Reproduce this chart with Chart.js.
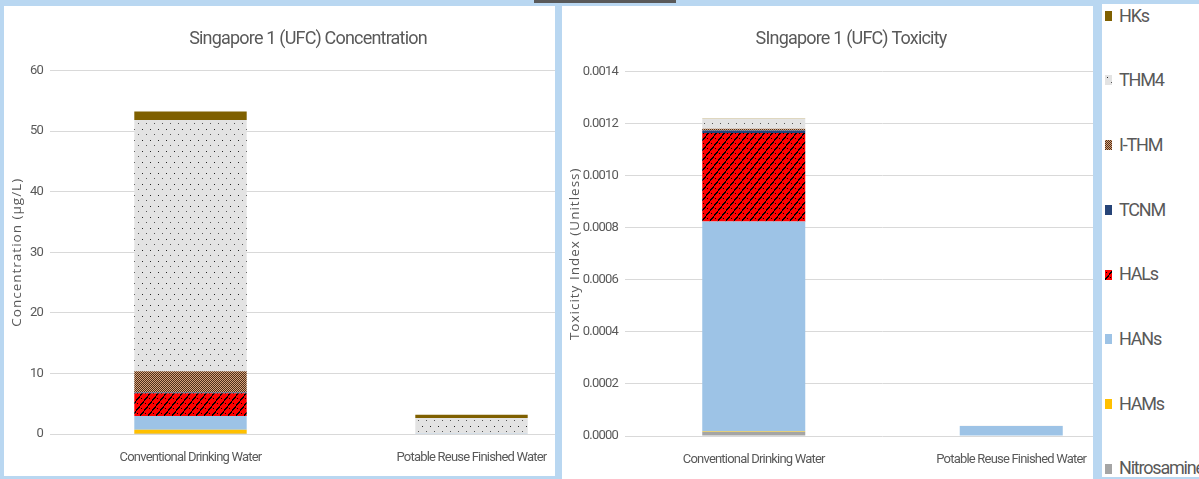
<!DOCTYPE html>
<html>
<head>
<meta charset="utf-8">
<script src="https://cdn.jsdelivr.net/npm/chart.js@4.4.0/dist/chart.umd.min.js"></script>
<style>
  body { margin: 0; width: 1199px; height: 479px; background: #b9d7f1; position: relative; overflow: hidden; }
  .panel { position: absolute; background: #fff; overflow: hidden; }
  #leftPanel { left: 4px; top: 6px; width: 551px; height: 470px; }
  #rightPanel { left: 562px; top: 6px; width: 531px; height: 473px; }
  #legendPanel { left: 1102px; top: 4px; width: 97px; height: 473px; }
  #topBar { position: absolute; left: 534px; top: 0; width: 142px; height: 3px; background: #595959; }
  .item { position: absolute; left: 3px; height: 22px; line-height: 22px; white-space: nowrap;
          font-family: 'Roboto', sans-serif; font-size: 18px; letter-spacing: -1.2px; color: #595959; }
  .item canvas { vertical-align: middle; margin-right: 7px; position: relative; top: -1px; }
</style>
</head>
<body>
<div id="topBar"></div>
<div class="panel" id="leftPanel"><canvas id="concChart" width="608" height="470"></canvas></div>
<div class="panel" id="rightPanel"><canvas id="toxChart" width="578" height="473"></canvas></div>
<div class="panel" id="legendPanel"></div>
<script>
// categories and series (stack order, bottom to top)
const categories = ['Conventional Drinking Water', 'Potable Reuse Finished Water'];
const seriesNames = ['Nitrosamines', 'HAMs', 'HANs', 'HALs', 'TCNM', 'I-THM', 'THM4', 'HKs'];

// concentration (ug/L)
const concNitrosamines = [0.03, 0];
const concHAMs = [0.66, 0];
const concHANs = [2.3, 0.04];
const concHALs = [3.75, 0];
const concTCNM = [0.12, 0];
const concITHM = [3.5, 0];
const concTHM4 = [41.5, 2.6];
const concHKs = [1.4, 0.55];

// toxicity index (unitless)
const toxNitrosamines = [0.000015, 0];
const toxHAMs = [0.000002, 0];
const toxHANs = [0.000807, 0.000038];
const toxHALs = [0.00034, 0];
const toxTCNM = [0.00001, 0];
const toxITHM = [0.0000065, 0];
const toxTHM4 = [0.000037, 0.000001];
const toxHKs = [0.000001, 0];

// axis ranges
const concMax = 60, concStep = 10;
const toxMax = 0.0014, toxStep = 0.0002;

const concData = [concNitrosamines, concHAMs, concHANs, concHALs, concTCNM, concITHM, concTHM4, concHKs];
const toxData = [toxNitrosamines, toxHAMs, toxHANs, toxHALs, toxTCNM, toxITHM, toxTHM4, toxHKs];

const textColor = '#595959';
const bodyFont = "'Roboto', sans-serif";

function tile(w, h, draw) {
  const c = document.createElement('canvas');
  c.width = w; c.height = h;
  draw(c.getContext('2d'));
  return c;
}

// pattern tiles, like the Excel pattern fills
const dotsTile = tile(8, 11, g => {
  g.fillStyle = '#e3e3e3'; g.fillRect(0, 0, 8, 11);
  g.fillStyle = '#222'; g.fillRect(2, 2, 1, 1);
  g.fillStyle = '#555'; g.fillRect(6, 7, 1, 1);
});
const checkTile = tile(4, 2, g => {
  g.fillStyle = '#d8a27c'; g.fillRect(0, 0, 4, 2);
  g.fillStyle = '#4e3019';
  g.fillRect(1, 0, 1, 1); g.fillRect(3, 0, 1, 1);
  g.fillRect(0, 1, 1, 1); g.fillRect(2, 1, 1, 1);
});
const weaveTile = tile(8, 10, g => {
  g.fillStyle = '#ff0000'; g.fillRect(0, 0, 8, 10);
  g.fillStyle = '#000';
  // slanted lines, 2 per tile, with a short cross tick to close the "scales"
  for (let i = 0; i < 8; i++) {
    const y = 9 - Math.floor(i * 1.25);
    g.fillRect(i, y - 1 < 0 ? 9 : y - 1, 1, 1);
    g.fillRect(i, y, 1, 1);
    g.fillRect((i + 4) % 8, (y + 5) % 10, 1, 1);
  }
  g.fillRect(1, 2, 1, 1); g.fillRect(5, 7, 1, 1);
});

function fillFor(ctx, name) {
  switch (name) {
    case 'Nitrosamines': return '#a5a5a5';
    case 'HAMs': return '#ffc000';
    case 'HANs': return '#9dc3e6';
    case 'HALs': return ctx.createPattern(weaveTile, 'repeat');
    case 'TCNM': return '#264478';
    case 'I-THM': return ctx.createPattern(checkTile, 'repeat');
    case 'THM4': return ctx.createPattern(dotsTile, 'repeat');
    case 'HKs': return '#7f6000';
  }
}

// narrower text, closer to the Calibri look of the original
const tightText = {
  id: 'tightText',
  beforeLayout(chart) { chart.ctx.letterSpacing = '-0.8px'; },
  beforeDraw(chart) { chart.ctx.letterSpacing = '-0.8px'; }
};

// rotated y axis title with its own (wider) spacing
const yTitle = {
  id: 'yTitle',
  afterDraw(chart, args, opts) {
    const { ctx, chartArea } = chart;
    ctx.save();
    ctx.letterSpacing = '1px';
    ctx.font = "13.5px 'Open Sans', sans-serif";
    ctx.fillStyle = textColor;
    ctx.textAlign = 'center';
    ctx.textBaseline = 'middle';
    ctx.translate(opts.x, (chartArea.top + chartArea.bottom) / 2);
    ctx.rotate(-Math.PI / 2);
    ctx.fillText(opts.text, 0, 0);
    ctx.restore();
  }
};

function makeChart(id, data, title, yText, yMax, yStep, yWidth, xHeight, titlePad, fmt) {
  const ctx = document.getElementById(id).getContext('2d');
  return new Chart(ctx, {
    type: 'bar',
    data: {
      labels: categories,
      datasets: seriesNames.map((name, i) => ({
        label: name,
        data: data[i],
        backgroundColor: fillFor(ctx, name),
        borderWidth: 0,
        barPercentage: 0.4,
        categoryPercentage: 1
      }))
    },
    options: {
      responsive: false,
      animation: false,
      layout: { padding: 0 },
      plugins: {
        legend: { display: false },
        tooltip: { enabled: false },
        title: {
          display: true,
          text: title,
          color: textColor,
          font: { family: bodyFont, size: 18, weight: 'normal', lineHeight: 1.2 },
          padding: titlePad
        },
        yTitle: { text: yText, x: 13 }
      },
      scales: {
        x: {
          stacked: true,
          grid: { display: false, drawTicks: false },
          border: { display: false },
          ticks: { color: textColor, font: { family: bodyFont, size: 13 }, padding: 16, maxRotation: 0 },
          afterFit: s => { s.height = xHeight; }
        },
        y: {
          stacked: true,
          min: 0,
          max: yMax,
          grid: { color: '#d9d9d9', drawTicks: false },
          border: { display: false },
          ticks: {
            stepSize: yStep,
            color: textColor,
            padding: 7,
            font: { family: bodyFont, size: 13 },
            callback: fmt
          },
          afterFit: s => { s.width = yWidth; }
        }
      }
    },
    plugins: [tightText, yTitle]
  });
}

makeChart('concChart', concData, 'Singapore 1 (UFC) Concentration', 'Concentration (\u00b5g/L)',
  concMax, concStep, 46, 42, { top: 23, bottom: 20 }, v => Math.round(v).toString());
makeChart('toxChart', toxData, 'SIngapore 1 (UFC) Toxicity', 'Toxicity Index (Unitless)',
  toxMax, toxStep, 63, 43, { top: 23, bottom: 21 }, v => v.toFixed(4));

// legend panel, top entry is the top of the stack
const legendPanel = document.getElementById('legendPanel');
seriesNames.slice().reverse().forEach((name, i) => {
  const item = document.createElement('div');
  item.className = 'item';
  item.style.top = (11.5 + i * 64.7 - 11) + 'px';
  const sw = document.createElement('canvas');
  sw.width = 7; sw.height = 10;
  const g = sw.getContext('2d');
  g.fillStyle = fillFor(g, name);
  g.fillRect(0, 0, 7, 10);
  item.appendChild(sw);
  item.appendChild(document.createTextNode(name));
  legendPanel.appendChild(item);
});
</script>
</body>
</html>
